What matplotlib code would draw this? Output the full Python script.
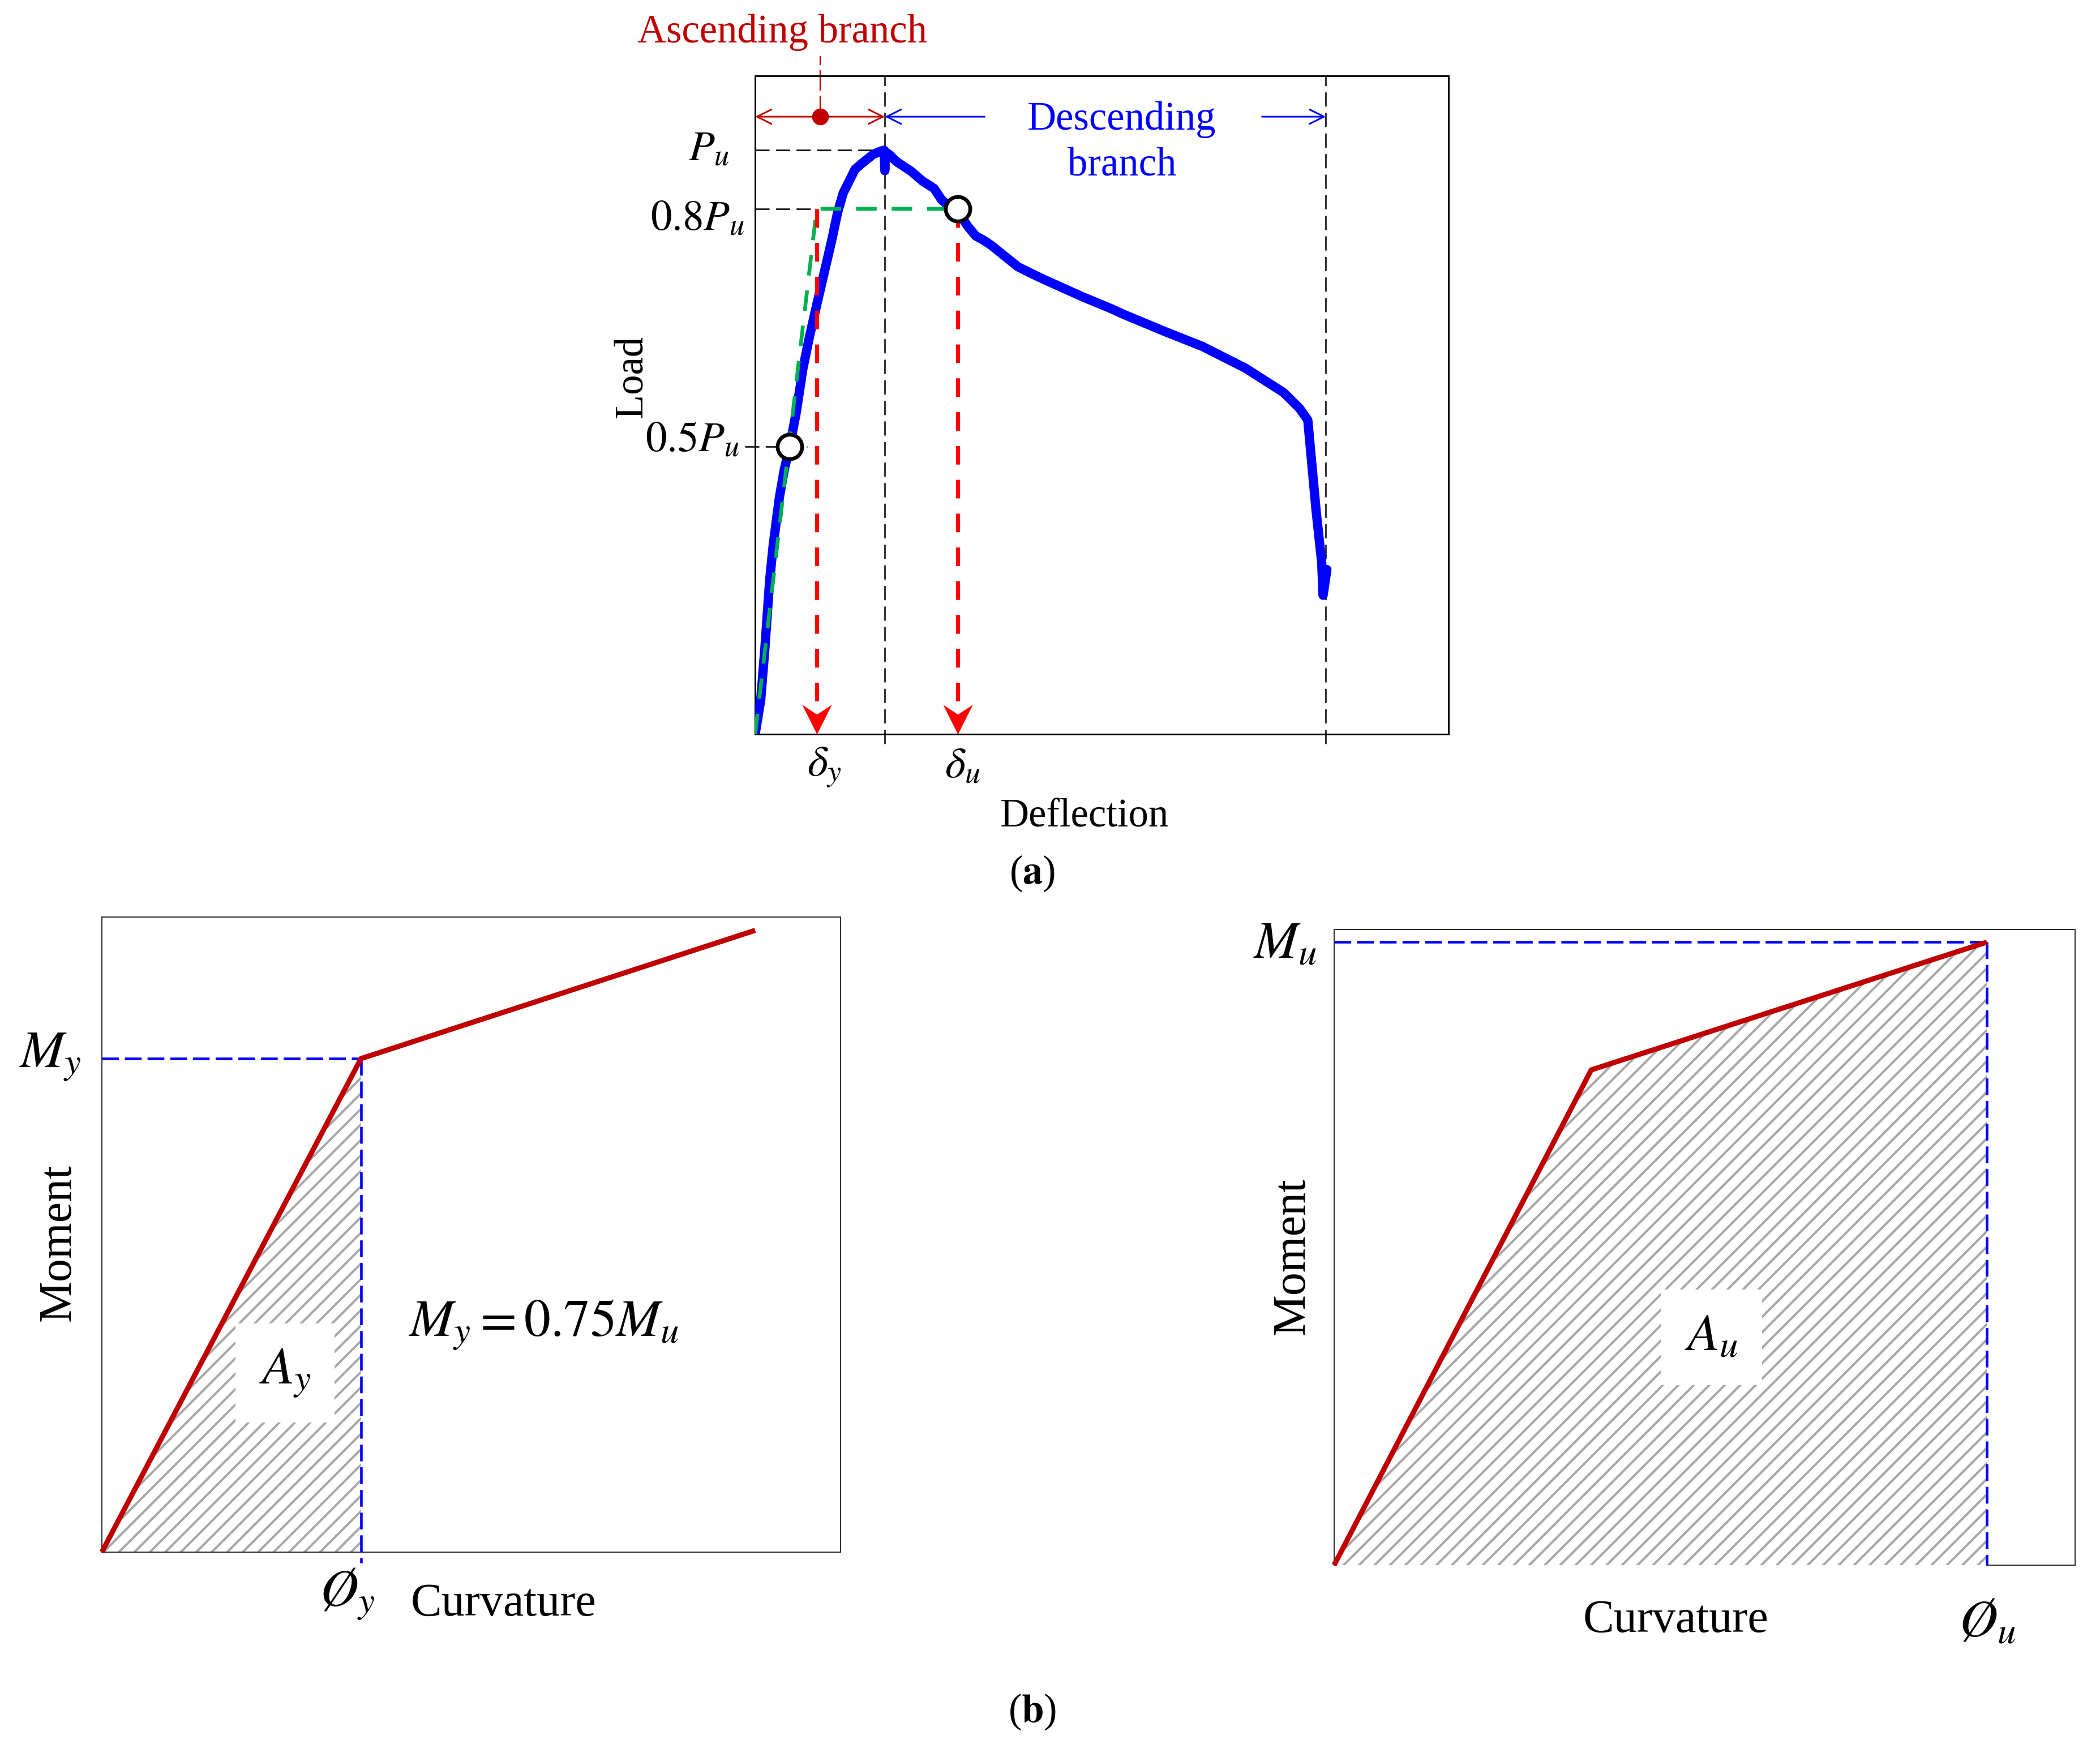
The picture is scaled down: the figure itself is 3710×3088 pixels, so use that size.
import numpy as np
import matplotlib.pyplot as plt
from matplotlib.patches import Polygon

plt.rcParams['font.family'] = ['Liberation Serif', 'DejaVu Serif']
plt.rcParams['mathtext.fontset'] = 'stix'
plt.rcParams['hatch.linewidth'] = 1.8

# ---- (a) load-deflection curve (axes fraction units)
defl = [0.000, 0.008, 0.014, 0.021, 0.026, 0.035, 0.042, 0.0498, 0.0593,
        0.0688, 0.0784, 0.0892, 0.100, 0.111, 0.119, 0.127, 0.144, 0.155,
        0.1706, 0.182, 0.186, 0.187, 0.188, 0.193, 0.2035, 0.225, 0.2416,
        0.258, 0.269, 0.282, 0.292, 0.307, 0.318, 0.330, 0.340, 0.379, 0.398,
        0.418, 0.473, 0.512, 0.533, 0.590, 0.645, 0.707, 0.762, 0.785, 0.797,
        0.809, 0.817, 0.819, 0.8245]
load = [0.000, 0.052, 0.130, 0.235, 0.287, 0.360, 0.402, 0.437, 0.489,
        0.555, 0.604, 0.654, 0.703, 0.753, 0.793, 0.822, 0.858, 0.868,
        0.881, 0.886, 0.887, 0.856, 0.884, 0.881, 0.870, 0.855, 0.840,
        0.829, 0.8115, 0.800, 0.794, 0.771, 0.757, 0.750, 0.743, 0.710, 0.700,
        0.690, 0.664, 0.647, 0.637, 0.612, 0.589, 0.556, 0.519, 0.495, 0.477,
        0.339, 0.261, 0.211, 0.250]
P_u = max(load)
P_08 = 0.798
P_05 = 0.437
d_05 = 0.0498   # deflection at 0.5Pu
d_y = 0.0887    # yield deflection
d_u = 0.292     # ultimate deflection
d_peak = 0.187
d_fail = 0.823
y_arrow = 0.938

# ---- (b) bilinear moment-curvature
curv_y = [0.0, 0.3507, 0.8843]
mom_y = [0.0, 0.777, 0.979]
curv_u = [0.0, 0.347, 0.881]
mom_u = [0.0, 0.779, 0.980]

DPI = 164
fig = plt.figure(figsize=(3710 / DPI, 3088 / DPI), dpi=DPI)

# ============================ (a)
ax = fig.add_axes([0.3596, 0.5800, 0.3302, 0.3766])
ax.set_xlim(0, 1)
ax.set_ylim(0, 1)
ax.set_xticks([])
ax.set_yticks([])
for s in ax.spines.values():
    s.set_linewidth(1.3)

k = dict(color='black', lw=1.1, dashes=(10, 4.5), zorder=1)
ax.plot([0, defl[int(np.argmax(load))]], [P_u, P_u], **k)
ax.plot([0, d_y], [P_08, P_08], **k)
ax.plot([-0.015, d_05 + 0.025], [P_05, P_05], clip_on=False, **k)
ax.plot([d_peak, d_peak], [-0.015, 1], clip_on=False, **k)
ax.plot([d_fail, d_fail], [-0.015, 1], clip_on=False, **k)

ax.plot(defl, load, color='#0000ff', lw=7.2, solid_joinstyle='round',
        solid_capstyle='round', zorder=3)
ax.plot([0, d_y, d_u], [0, P_08, P_08], color='#00b050', lw=2.9,
        dashes=(5.5, 4), zorder=4)

head = [(0, 0), (-0.5, 1), (0, 0.67), (0.5, 1), (0, 0)]
for d in (d_y, d_u):
    ax.plot([d, d], [P_08, 0.03], color='#ff0000', lw=3.2, dashes=(4.5, 3.7),
            zorder=4)
    ax.plot(d, 0, marker=head, ms=46, color='#ff0000', mew=0, clip_on=False,
            zorder=5)

ax.plot([d_05, d_u], [P_05, P_08], 'o', ms=19, mfc='white', mec='black',
        mew=2.9, zorder=6)

# branch arrows
ax.annotate('', xy=(0, y_arrow), xytext=(d_peak, y_arrow),
            arrowprops=dict(arrowstyle='<->', color='#c00000', lw=1.3,
                            mutation_scale=28, shrinkA=0, shrinkB=0))
ax.plot(d_peak / 2, y_arrow, 'o', color='#c00000', ms=12, zorder=5)
ax.plot([d_peak / 2, d_peak / 2], [y_arrow, 1.03], color='#c00000', lw=1.0,
        dashes=(16, 4), clip_on=False)
ax.annotate('', xy=(d_peak, y_arrow), xytext=(0.331, y_arrow),
            arrowprops=dict(arrowstyle='->', color='#0000ff', lw=1.3,
                            mutation_scale=28, shrinkA=0, shrinkB=0))
ax.annotate('', xy=(d_fail, y_arrow), xytext=(0.731, y_arrow),
            arrowprops=dict(arrowstyle='->', color='#0000ff', lw=1.3,
                            mutation_scale=28, shrinkA=0, shrinkB=0))

ax.text(0.039, 1.066, 'Ascending branch', color='#c00000', fontsize=31,
        ha='center', va='center')
ax.text(0.529, 0.934, 'Descending', color='#0000ff', fontsize=31,
        ha='center', va='center')
ax.text(0.529, 0.863, 'branch', color='#0000ff', fontsize=31,
        ha='center', va='center')

ax.text(-0.037, 0.887, r'$P_u$', fontsize=33, ha='right', va='center')
ax.text(-0.015, 0.781, r'$0.8P_u$', fontsize=33, ha='right', va='center')
ax.text(-0.022, 0.445, r'$0.5P_u$', fontsize=33, ha='right', va='center')
ax.text(0.0996, -0.05, r'$\delta_y$', fontsize=34, ha='center', va='center')
ax.text(0.299, -0.05, r'$\delta_u$', fontsize=34, ha='center', va='center')
ax.text(0.475, -0.126, 'Deflection', fontsize=31, ha='center', va='center')
ax.text(-0.177, 0.543, 'Load', fontsize=31, ha='center', va='center',
        rotation=90)
fig.text(0.4916, 0.5003, r'($\mathbf{a}$)', fontsize=31, ha='center',
         va='center')


# ============================ (b)
def setup_b(rect):
    a = fig.add_axes(rect)
    a.set_xlim(0, 1)
    a.set_ylim(0, 1)
    a.set_xticks([])
    a.set_yticks([])
    for s in a.spines.values():
        s.set_linewidth(0.9)
        s.set_color('#303030')
    return a


blue = dict(color='#0000ff', lw=2.0, dashes=(6.5, 2.3), zorder=3)
hatch = dict(facecolor='none', edgecolor='#a8a8a8', hatch='//', lw=0,
             zorder=1)

# left: yield
bl = setup_b([0.0485, 0.1121, 0.3518, 0.3633])
bl.add_patch(Polygon([(curv_y[0], mom_y[0]), (curv_y[1], mom_y[1]),
                      (curv_y[1], 0)], closed=True, **hatch))
bl.plot([0, curv_y[1]], [mom_y[1], mom_y[1]], **blue)
bl.plot([curv_y[1], curv_y[1]], [mom_y[1], -0.017], clip_on=False, **blue)
bl.plot(curv_y, mom_y, color='#c00000', lw=4.0, solid_capstyle='butt',
        clip_on=False, zorder=4)
bl.text(0.248, 0.282, r'$A_y$', fontsize=41, ha='center', va='center',
        bbox=dict(boxstyle='square,pad=0.45', fc='white', ec='none'),
        zorder=5)
bl.text(0.415, 0.358, r'$M_y = 0.75M_u$', fontsize=41, ha='left',
        va='center')
bl.text(-0.070, 0.780, r'$M_y$', fontsize=41, ha='center', va='center')
bl.text(0.332, -0.066, r'$\O_y$', fontsize=41, ha='center', va='center')
bl.text(0.544, -0.082, 'Curvature', fontsize=36, ha='center', va='center')
bl.text(-0.058, 0.487, 'Moment', fontsize=36, ha='center', va='center',
        rotation=90)

# right: ultimate
br = setup_b([0.6353, 0.1046, 0.3528, 0.3637])
br.spines['bottom'].set_bounds(curv_u[2], 1)
br.add_patch(Polygon(list(zip(curv_u, mom_u)) + [(curv_u[2], 0)],
                     closed=True, **hatch))
br.plot([0, curv_u[2]], [mom_u[2], mom_u[2]], **blue)
br.plot([curv_u[2], curv_u[2]], [mom_u[2], 0], **blue)
br.plot(curv_u, mom_u, color='#c00000', lw=4.0, solid_capstyle='butt',
        clip_on=False, zorder=4)
br.text(0.509, 0.358, r'$A_u$', fontsize=41, ha='center', va='center',
        bbox=dict(boxstyle='square,pad=0.45', fc='white', ec='none'),
        zorder=5)
br.text(-0.066, 0.975, r'$M_u$', fontsize=41, ha='center', va='center')
br.text(0.882, -0.092, r'$\O_u$', fontsize=41, ha='center', va='center')
br.text(0.461, -0.087, 'Curvature', fontsize=36, ha='center', va='center')
br.text(-0.056, 0.486, 'Moment', fontsize=36, ha='center', va='center',
        rotation=90)

fig.text(0.4916, 0.0207, r'($\mathbf{b}$)', fontsize=31, ha='center',
         va='center')

fig.savefig('out.png', dpi=DPI, facecolor='white')
